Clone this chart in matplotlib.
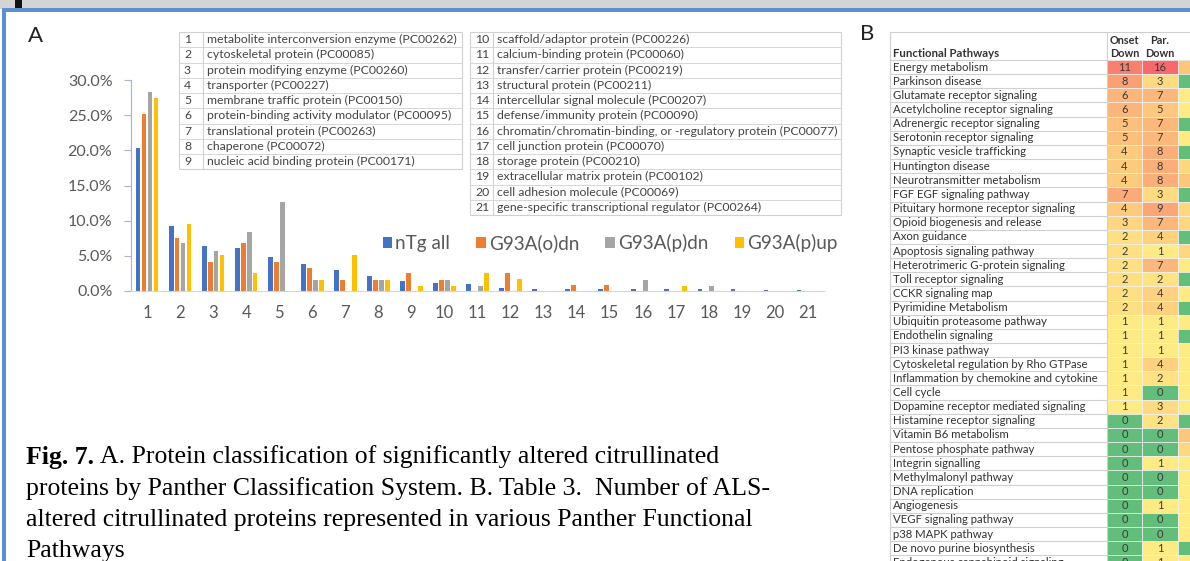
import numpy as np
import matplotlib.pyplot as plt
from matplotlib.patches import Rectangle
from matplotlib.colors import to_rgb

W, H = 1190, 561

# Panel A: protein classes (percent of proteins)
categories = [str(i) for i in range(1, 22)]
ntg_all = [20.4, 9.2, 6.4, 6.1, 4.8, 3.8, 3.0, 2.1, 1.4, 1.1, 0.95, 0.4, 0.25, 0.25, 0.25, 0.25, 0.25, 0.25, 0.3, 0.1, 0.1]
g93a_o_dn = [25.2, 7.6, 4.1, 6.8, 4.1, 3.3, 1.5, 1.6, 2.6, 1.6, 0, 2.6, 0, 0.85, 0.9, 0, 0, 0, 0, 0, 0]
g93a_p_dn = [28.3, 6.8, 5.7, 8.4, 12.7, 1.6, 0, 1.6, 0, 1.6, 0.7, 0, 0, 0, 0, 1.6, 0, 0.75, 0, 0, 0]
g93a_p_up = [27.4, 9.5, 5.1, 2.5, 0, 1.6, 5.1, 1.6, 0.7, 0.7, 2.6, 1.7, 0, 0, 0, 0, 0.7, 0, 0, 0, 0]
series_names = ['nTg all', 'G93A(o)dn', 'G93A(p)dn', 'G93A(p)up']
series_colors = ['#4472C4', '#ED7D31', '#A5A5A5', '#FFC000']
yticks = [0, 5, 10, 15, 20, 25, 30]

class_names = [
    'metabolite interconversion enzyme (PC00262)',
    'cytoskeletal protein (PC00085)',
    'protein modifying enzyme (PC00260)',
    'transporter (PC00227)',
    'membrane traffic protein (PC00150)',
    'protein-binding activity modulator (PC00095)',
    'translational protein (PC00263)',
    'chaperone (PC00072)',
    'nucleic acid binding protein (PC00171)',
    'scaffold/adaptor protein (PC00226)',
    'calcium-binding protein (PC00060)',
    'transfer/carrier protein (PC00219)',
    'structural protein (PC00211)',
    'intercellular signal molecule (PC00207)',
    'defense/immunity protein (PC00090)',
    'chromatin/chromatin-binding, or -regulatory protein (PC00077)',
    'cell junction protein (PC00070)',
    'storage protein (PC00210)',
    'extracellular matrix protein (PC00102)',
    'cell adhesion molecule (PC00069)',
    'gene-specific transcriptional regulator (PC00264)',
]

# Panel B: pathway table
pathways = [
    'Energy metabolism', 'Parkinson disease', 'Glutamate receptor signaling',
    'Acetylcholine receptor signaling', 'Adrenergic receptor signaling',
    'Serotonin receptor signaling', 'Synaptic vesicle trafficking', 'Huntington disease',
    'Neurotransmitter metabolism', 'FGF EGF signaling pathway',
    'Pituitary hormone receptor signaling', 'Opioid biogenesis and release', 'Axon guidance',
    'Apoptosis signaling pathway', 'Heterotrimeric G-protein signaling', 'Toll receptor signaling',
    'CCKR signaling map', 'Pyrimidine Metabolism', 'Ubiquitin proteasome pathway',
    'Endothelin signaling', 'PI3 kinase pathway', 'Cytoskeletal regulation by Rho GTPase',
    'Inflammation by chemokine and cytokine', 'Cell cycle', 'Dopamine receptor mediated signaling',
    'Histamine receptor signaling', 'Vitamin B6 metabolism', 'Pentose phosphate pathway',
    'Integrin signalling', 'Methylmalonyl pathway', 'DNA replication', 'Angiogenesis',
    'VEGF signaling pathway', 'p38 MAPK pathway', 'De novo purine biosynthesis',
    'Endogenous cannabinoid signaling',
]
onset_down = [11, 8, 6, 6, 5, 5, 4, 4, 4, 7, 4, 3, 2, 2, 2, 2, 2, 2, 1, 1, 1, 1, 1, 1, 1,
              0, 0, 0, 0, 0, 0, 0, 0, 0, 0, 0]
par_down = [16, 3, 7, 5, 7, 7, 8, 8, 8, 3, 9, 7, 4, 1, 7, 2, 4, 4, 1, 1, 1, 4, 2, 0, 3,
            2, 0, 0, 1, 0, 0, 1, 0, 0, 1, 1]
# third column is cut off by the slide edge; only its colours show
third_col = [3, 0, 1, 1, 0, 1, 0, 2, 3, 0, 2, 2, 0, 2, 1, 0, 1, 0, 1, 0, 1, 1, 1, 1, 1,
             0, 3, 2, 1, 1, 1, 1, 1, 1, 0, 1]

caption_lines = [
    'A. Protein classification of significantly altered citrullinated',
    'proteins by Panther Classification System. B. Table 3.  Number of ALS-',
    'altered citrullinated proteins represented in various Panther Functional',
    'Pathways',
]

plt.rcParams['font.family'] = ['Lato', 'DejaVu Sans']

fig = plt.figure(figsize=(W / 100, H / 100), dpi=100)
bg = fig.add_axes([0, 0, 1, 1])
bg.set_xlim(0, W)
bg.set_ylim(H, 0)
bg.axis('off')

# slide frame
bg.add_patch(Rectangle((0, 0), W, 9, color='#d4d4d4', lw=0))
bg.add_patch(Rectangle((15, 0), 7, 10, color='#111111', lw=0))
bg.add_patch(Rectangle((2, 8), W, 4, color='#5b8fd6', lw=0))
bg.add_patch(Rectangle((2, 8), 3.5, H, color='#5b8fd6', lw=0))

bg.text(28, 36, 'A', fontsize=16, va='center', ha='left', color='#222222')
bg.text(860, 34, 'B', fontsize=16, va='center', ha='left', color='#222222')

# class lookup tables
line_c = '#d0d0d0'
txt_c = '#444444'
rh = 15.25
for tx0, tx1, div, start, n in [(179, 462, 203, 0, 9), (470, 841, 493, 9, 12)]:
    top = 32
    bot = top + rh * n
    bg.add_patch(Rectangle((tx0, top), tx1 - tx0, bot - top, fill=False, ec=line_c, lw=0.8))
    bg.plot([div, div], [top, bot], color=line_c, lw=0.8)
    for i in range(n):
        y = top + rh * i
        if i > 0:
            bg.plot([tx0, tx1], [y, y], color=line_c, lw=0.6)
        bg.text(tx0 + 5, y + rh / 2, str(start + i + 1), fontsize=8.8, color=txt_c, va='center')
        bg.text(div + 4, y + rh / 2, class_names[start + i], fontsize=8.8, color=txt_c, va='center')

# bar chart
ax = fig.add_axes([130.5 / W, 1 - 291 / H, (824.5 - 130.5) / W, (291 - 80) / H])
ax.patch.set_alpha(0)
x = np.arange(1, len(categories) + 1)
pitch = 0.18
for k, (vals, name, col) in enumerate(zip([ntg_all, g93a_o_dn, g93a_p_dn, g93a_p_up],
                                          series_names, series_colors)):
    ax.bar(x + (k - 1.5) * pitch, vals, width=0.145, color=col, label=name)
ax.set_xlim(0.5, 21.5)
ax.set_ylim(0, 30)
ax.set_yticks(yticks)
ax.set_yticklabels([f'{v:.1f}%' for v in yticks])
ax.set_xticks(x)
ax.set_xticklabels(categories)
for s in ['top', 'right']:
    ax.spines[s].set_visible(False)
ax.spines['left'].set_color('#a3b5d3')
ax.spines['bottom'].set_color('#d0d6e0')
ax.tick_params(axis='y', length=5, color='#a3b5d3', labelsize=11.5, labelcolor='#595959', pad=8)
ax.tick_params(axis='x', length=0, labelsize=12, labelcolor='#595959', pad=10)
ax.legend(loc='center', bbox_to_anchor=(610 / W, 1 - 243 / H), bbox_transform=fig.transFigure,
          ncol=4, frameon=False, fontsize=13.6, labelcolor='#595959', handlelength=0.5,
          handleheight=0.5, handletextpad=0.15, columnspacing=1.4)

# caption
fs = 18.5
serif = 'Liberation Serif'
renderer = fig.canvas.get_renderer()
lab = bg.text(26, 457, 'Fig. 7.', fontsize=fs, family=serif, weight='bold', va='center')
ext = lab.get_window_extent(renderer)
bg.text(ext.x1 + 6, 457, caption_lines[0], fontsize=fs, family=serif, va='center')
for i, line in enumerate(caption_lines[1:]):
    bg.text(26, 457 + 31.5 * (i + 1), line, fontsize=fs, family=serif, va='center')

# pathway table
def excel_color(v, vmin, vmid, vmax):
    g, yl, r = np.array(to_rgb('#63BE7B')), np.array(to_rgb('#FFEB84')), np.array(to_rgb('#F8696B'))
    if v <= vmid:
        t = (v - vmin) / (vmid - vmin)
        return g + (yl - g) * t
    t = (v - vmid) / (vmax - vmid)
    return yl + (r - yl) * t

tl, tn, t1, t2, t3 = 890, 1107, 1142, 1178, 1215
htop, row0, prh = 32, 60, 14.15
bg.add_patch(Rectangle((tl, htop), t3 - tl, row0 - htop, fill=False, ec=line_c, lw=0.8))
bg.plot([tn, tn], [htop, H], color=line_c, lw=0.8)
bg.plot([tl, tl], [htop, H], color=line_c, lw=0.8)
bg.text(tl + 3, 53, 'Functional Pathways', fontsize=8.2, weight='bold', color='#333333', va='center')
for cx, l1, l2 in [((tn + t1) / 2, 'Onset', 'Down'), ((t1 + t2) / 2, 'Par.', 'Down')]:
    bg.text(cx, 40, l1, fontsize=7.8, weight='bold', color='#333333', ha='center', va='center')
    bg.text(cx, 53.5, l2, fontsize=7.8, weight='bold', color='#333333', ha='center', va='center')
scales = [((tn, t1), onset_down, 1, 13), ((t1, t2), par_down, 1, 16), ((t2, t3), third_col, 1, 8)]
for i, name in enumerate(pathways):
    y = row0 + prh * i
    bg.plot([tl, tn], [y + prh, y + prh], color=line_c, lw=0.8)
    bg.text(tl + 3, y + prh / 2, name, fontsize=8.2, color='#333333', va='center')
    for (a, b), vals, mid, vmax in scales:
        col = excel_color(vals[i], 0, mid, vmax)
        bg.add_patch(Rectangle((a, y), b - a, prh, fc=col, ec='#f2f2f2', lw=0.5))
    bg.text((tn + t1) / 2, y + prh / 2, str(onset_down[i]), fontsize=8, color='#3a3a3a', ha='center', va='center')
    bg.text((t1 + t2) / 2, y + prh / 2, str(par_down[i]), fontsize=8, color='#3a3a3a', ha='center', va='center')

fig.savefig('out.png', dpi=100)
